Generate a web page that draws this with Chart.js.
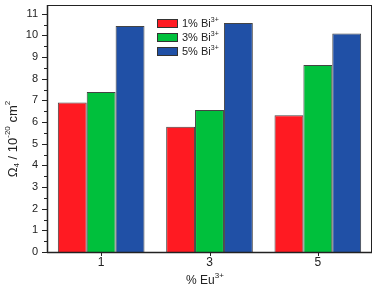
<!DOCTYPE html>
<html>
<head>
<meta charset="utf-8">
<script src="https://cdn.jsdelivr.net/npm/chart.js@4"></script>
<style>
  html, body { margin: 0; padding: 0; background: #fff; }
  #wrap { width: 377px; height: 291px; }
</style>
</head>
<body>
<div id="wrap"><canvas id="myChart" width="377" height="291"></canvas></div>
<script>
const categories = ['1', '3', '5'];
const seriesLabels = ['1% Bi', '3% Bi', '5% Bi'];
const bi1 = [6.9, 5.78, 6.31];
const bi3 = [7.39, 6.55, 8.63];
const bi5 = [10.43, 10.57, 10.09];
const colors = ['#FF1A22', '#00C03C', '#2050A6'];
const yTicks = [0, 1, 2, 3, 4, 5, 6, 7, 8, 9, 10, 11];

const font = 'Liberation Sans, Arial, sans-serif';

// draws a run of [text, size, dy] pieces left to right
function drawPieces(ctx, pieces, x, y) {
  let cx = x;
  pieces.forEach(p => {
    ctx.font = p[1] + 'px ' + font;
    ctx.fillText(p[0], cx, y + p[2]);
    cx += ctx.measureText(p[0]).width;
  });
  return cx - x;
}
function piecesWidth(ctx, pieces) {
  let w = 0;
  pieces.forEach(p => { ctx.font = p[1] + 'px ' + font; w += ctx.measureText(p[0]).width; });
  return w;
}

// frame, minor/major ticks, titles and the legend box
const decor = {
  id: 'decor',
  afterDraw(chart) {
    const ctx = chart.ctx;
    const a = chart.chartArea;
    const y = chart.scales.y;
    const x = chart.scales.x;
    ctx.save();
    ctx.strokeStyle = '#222';
    ctx.lineWidth = 1;
    ctx.strokeRect(a.left + 0.5, a.top + 0.5, a.right - a.left - 1, a.bottom - a.top);
    ctx.lineWidth = 1.5;
    ctx.beginPath();
    ctx.moveTo(a.left, a.bottom + 0.5);
    ctx.lineTo(a.right, a.bottom + 0.5);
    ctx.moveTo(a.left + 0.5, a.top);
    ctx.lineTo(a.left + 0.5, a.bottom);
    ctx.stroke();
    ctx.lineWidth = 1;
    ctx.beginPath();
    for (let v = 0; v <= 11; v += 0.5) {
      const py = Math.round(y.getPixelForValue(v)) + 0.5;
      const len = Number.isInteger(v) ? 5 : 3;
      ctx.moveTo(a.left, py);
      ctx.lineTo(a.left - len, py);
    }
    categories.forEach((c, i) => {
      const px = Math.round(x.getPixelForValue(i)) + 0.5;
      ctx.moveTo(px, a.bottom);
      ctx.lineTo(px, a.bottom + 4);
    });
    ctx.stroke();

    ctx.fillStyle = '#222';
    ctx.textBaseline = 'middle';
    ctx.textAlign = 'left';

    // x title
    const xt = [['% Eu', 12, 0], ['3+', 8, -5]];
    drawPieces(ctx, xt, 205 - piecesWidth(ctx, xt) / 2, 281);

    // y title
    const yt = [['Ω', 13, 0], ['4', 8, 4], [' / 10', 13, 0], ['-20', 8, -5], [' cm', 13, 0], ['2', 8, -5]];
    ctx.save();
    ctx.translate(13, 139);
    ctx.rotate(-Math.PI / 2);
    drawPieces(ctx, yt, -piecesWidth(ctx, yt) / 2, 0);
    ctx.restore();

    // legend
    chart.data.datasets.forEach((ds, i) => {
      const ly = 19 + i * 14;
      ctx.fillStyle = ds.backgroundColor;
      ctx.fillRect(157, ly, 20, 8);
      ctx.strokeStyle = '#333';
      ctx.strokeRect(157.5, ly + 0.5, 20, 8);
      ctx.fillStyle = '#222';
      drawPieces(ctx, [[ds.label, 11, 0], ['3+', 7, -4]], 182, ly + 5);
    });
    ctx.restore();
  }
};

new Chart(document.getElementById('myChart').getContext('2d'), {
  type: 'bar',
  data: {
    labels: categories,
    datasets: [
      { label: seriesLabels[0], data: bi1, backgroundColor: colors[0] },
      { label: seriesLabels[1], data: bi3, backgroundColor: colors[1] },
      { label: seriesLabels[2], data: bi5, backgroundColor: colors[2] }
    ].map(d => Object.assign(d, { borderColor: '#444', borderWidth: 1, categoryPercentage: 0.8, barPercentage: 1 }))
  },
  options: {
    responsive: false,
    animation: false,
    layout: { padding: { left: 0, right: 5, top: 5, bottom: 0 } },
    plugins: { legend: { display: false }, tooltip: { enabled: false } },
    scales: {
      x: {
        grid: { display: false, drawTicks: false },
        border: { display: false },
        ticks: { color: '#222', font: { family: font, size: 12 }, padding: 3 },
        afterFit(s) { s.height = 39; }
      },
      y: {
        min: 0,
        max: 11.4,
        afterBuildTicks(s) { s.ticks = yTicks.map(v => ({ value: v })); },
        grid: { display: false, drawTicks: false },
        border: { display: false },
        ticks: { color: '#222', font: { family: font, size: 11 }, padding: 9 },
        afterFit(s) { s.width = 47; s.paddingTop = 0; s.paddingBottom = 0; }
      }
    }
  },
  plugins: [decor]
});
</script>
</body>
</html>
